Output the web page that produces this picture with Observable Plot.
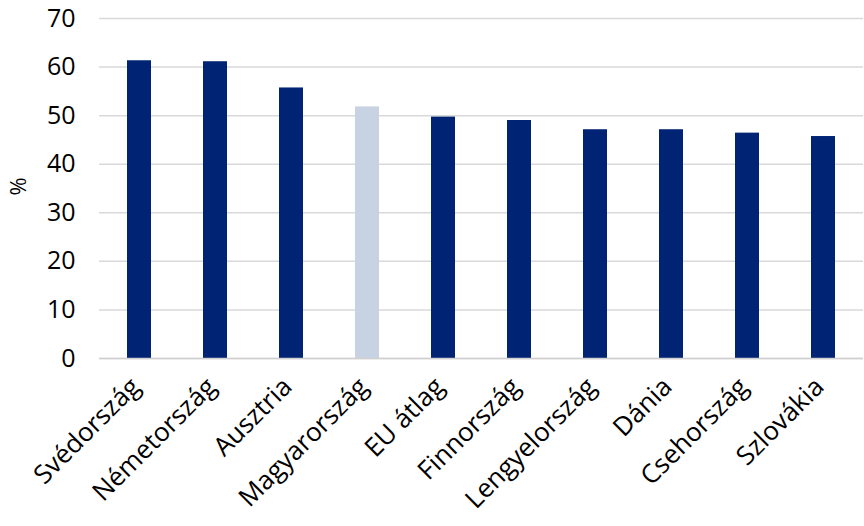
<!DOCTYPE html>
<html>
<head>
<meta charset="utf-8">
<script src="https://cdn.jsdelivr.net/npm/d3@7"></script>
<script src="https://cdn.jsdelivr.net/npm/@observablehq/plot@0.6"></script>
<style>
  html, body { margin: 0; padding: 0; background: #fff; }
  #chart svg { display: block; }
</style>
</head>
<body>
<div id="chart"></div>
<script>
const countries = ["Svédország", "Németország", "Ausztria", "Magyarország", "EU átlag", "Finnország", "Lengyelország", "Dánia", "Csehország", "Szlovákia"];
const values = [61.3, 61.1, 55.7, 51.8, 49.7, 49.0, 47.1, 47.1, 46.4, 45.7];
const highlighted = ["Magyarország"];
const yTicks = [0, 10, 20, 30, 40, 50, 60, 70];

const data = countries.map((c, i) => ({country: c, value: values[i], hl: highlighted.includes(c)}));

const chart = Plot.plot({
  width: 864,
  height: 526,
  marginTop: 18,
  marginBottom: 168,
  marginLeft: 99,
  marginRight: 1,
  style: {fontFamily: "'Open Sans', sans-serif", fontSize: "22px", color: "#000", background: "#fff"},
  x: {domain: countries, paddingInner: 0.69, paddingOuter: 0.345, label: null},
  y: {domain: [0, 70], ticks: yTicks, label: null},
  marks: [
    Plot.gridY(yTicks, {stroke: "#d9d9d9", strokeOpacity: 1, strokeWidth: 1.5}),
    Plot.axisY(yTicks, {tickSize: 0, tickPadding: 24, fontSize: 25, label: null}),
    Plot.barY(data, {x: "country", y: "value", fill: d => d.hl ? "#c7d3e3" : "#002373"}),
    Plot.ruleY([0], {stroke: "#d0d0d0", strokeWidth: 1.5}),
    Plot.axisX({tickSize: 0, tickRotate: -45, tickPadding: 24, dx: -4, fontSize: 26, label: null}),
    Plot.text(["%"], {frameAnchor: "left", dx: -81, dy: 7, rotate: -90, fontSize: 22, fill: "#000"})
  ]
});
document.getElementById("chart").appendChild(chart);
</script>
</body>
</html>
